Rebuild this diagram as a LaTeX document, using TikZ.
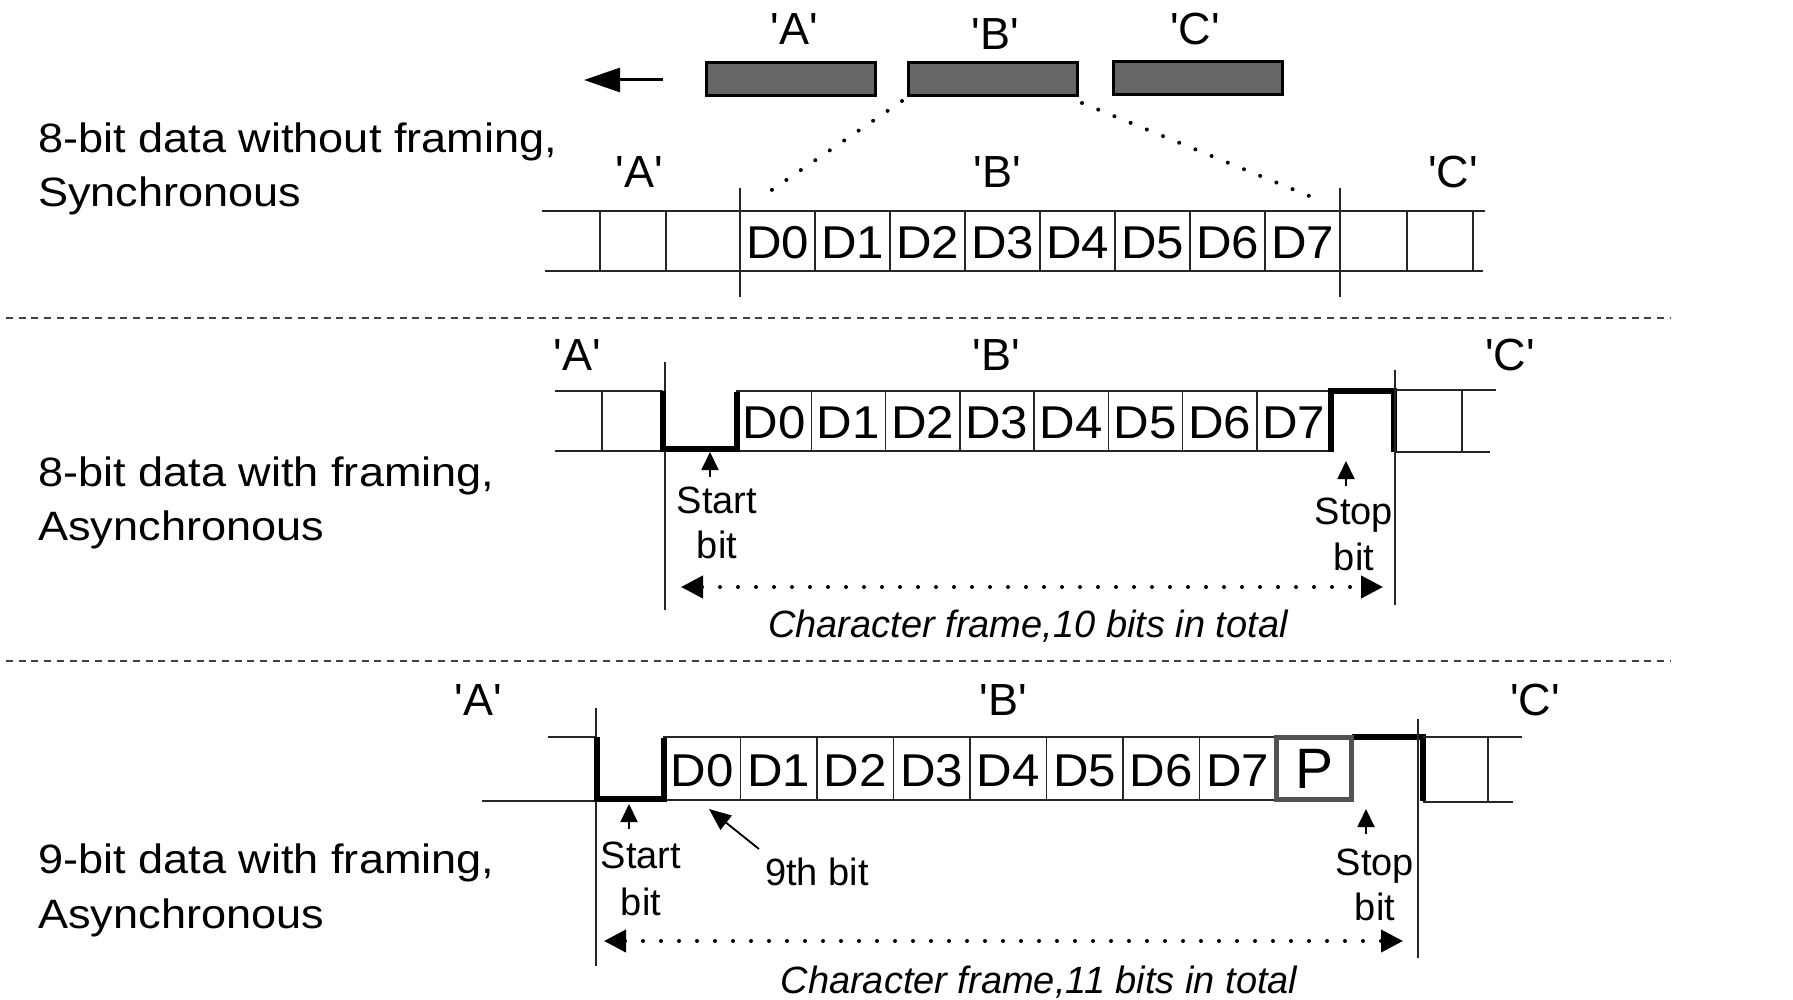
\documentclass[tikz,border=0pt]{standalone}
\usepackage{fontspec}
\setmainfont{Liberation Sans}[Ligatures=TeXOff]
\newfontfamily\widefont{Liberation Sans}[FakeStretch=1.1,Ligatures=TeXOff]
\newfontfamily\dfont{Liberation Sans}[FakeStretch=1.07,Ligatures=TeXOff]
\usetikzlibrary{arrows.meta}
\tikzset{
  thinln/.style={line width=1.5pt, draw=black!85},
  wave/.style={line width=5.5pt, draw=black, line join=miter},
  sepline/.style={line width=2pt, draw=black!75, dash pattern=on 7pt off 5.7pt},
  zoomdots/.style={line width=4pt, draw=black, line cap=round, dash pattern=on 0pt off 17.5pt},
  dimline/.style={line width=4pt, draw=black, line cap=round, dash pattern=on 0pt off 18pt,
     {Triangle[length=22pt,width=22pt]}-{Triangle[length=22pt,width=22pt]}},
  uparr/.style={line width=1.8pt, draw=black, -{Triangle[length=18pt,width=17pt]}},
  blk/.style={draw=black, fill=black!60, line width=3pt, minimum width=169pt, minimum height=33pt, inner sep=0pt},
  lbl/.style={font=\fontsize{45}{54}\selectfont, anchor=base, inner sep=0pt},
  side/.style={font=\widefont\fontsize{41}{54}\selectfont, anchor=base west, inner sep=0pt},
  dlbl/.style={font=\dfont\fontsize{46}{54}\selectfont, anchor=base, inner sep=0pt},
  small/.style={font=\fontsize{38}{45}\selectfont, anchor=base, inner sep=0pt},
  frame/.style={font=\itshape\fontsize{38}{45}\selectfont, anchor=base, inner sep=0pt},
  pbox/.style={draw=black!68, line width=5pt, minimum width=75pt, minimum height=62pt, inner sep=0pt,
     font=\fontsize{57}{60}\selectfont}
}
\begin{document}
\begin{tikzpicture}[x=1pt,y=-1pt]
\useasboundingbox (0,0) rectangle (1793,1000);

% ---------- top: character stream ----------
\node[blk] (boxA) at (791,79) {};
\node[blk] (boxB) at (993,79) {};
\node[blk] (boxC) at (1198,78) {};
\node[lbl] (tA) at (794,45) {'A'};
\node[lbl] (tB) at (995,50) {'B'};
\node[lbl] (tC) at (1195,45) {'C'};
\coordinate (arrS) at (663,80);
\coordinate (arrE) at (584,80);
\draw[line width=3pt, -{Triangle[length=36pt,width=24pt]}] (arrS) -- (arrE);

% ---------- row 1: synchronous ----------
\node[side] (l1a) at (38,153) {8-bit data without framing,};
\node[side] (l1b) at (38,207) {Synchronous};
\node[lbl] (r1A) at (639,188) {'A'};
\node[lbl] (r1B) at (997,188) {'B'};
\node[lbl] (r1C) at (1453,188) {'C'};
\draw[thinln] (542,211) -- (1485,211);
\draw[thinln] (545,271) -- (1483,271);
\foreach \x in {600,666,815,890,965,1040,1115,1190,1265,1407,1473}
  \draw[thinln] (\x,211) -- (\x,271);
\draw[thinln] (740,188) -- (740,297);
\draw[thinln] (1340,188) -- (1340,297);
\foreach \i in {0,...,7}
  \node[dlbl] (s1d\i) at ({777.5+75*\i},258.5) {D\i};
\coordinate (zl) at (760,198);
\coordinate (zr) at (1324,202);
\draw[zoomdots] ([shift={(-5,4)}]boxB.south west) -- (zl);
\draw[zoomdots] ([shift={(3,6)}]boxB.south east) -- (zr);

% separators
\coordinate (sepA1) at (6,318);  \coordinate (sepA2) at (1670,318);
\coordinate (sepB1) at (6,661);  \coordinate (sepB2) at (1670,661);
\draw[sepline] (sepA1) -- (sepA2);
\draw[sepline] (sepB1) -- (sepB2);

% ---------- row 2: 8-bit async ----------
\node[side] (l2a) at (38,486) {8-bit data with framing,};
\node[side] (l2b) at (38,540) {Asynchronous};
\node[lbl] (r2A) at (577,370) {'A'};
\node[lbl] (r2B) at (996,370) {'B'};
\node[lbl] (r2C) at (1510,370) {'C'};
\draw[thinln] (555,391) -- (663,391);
\draw[thinln] (555,451) -- (663,451);
\draw[thinln] (602,391) -- (602,451);
\draw[thinln] (665,362) -- (665,610);
\draw[thinln] (737,391) rectangle (1331,451);
\foreach \i in {1,...,7}
  \draw[thinln] ({737+74.25*\i},391) -- ({737+74.25*\i},451);
\foreach \i in {0,...,7}
  \node[dlbl] (s2d\i) at ({774.1+74.25*\i},438.5) {D\i};
\draw[wave] (663,391) -- (663,449) -- (737,449) -- (737,392);
\draw[wave] (1331,452) -- (1331,391) -- (1394,391) -- (1394,452);
\draw[thinln] (1395,370) -- (1395,605);
\draw[thinln] (1394,390) -- (1496,390);
\draw[thinln] (1394,452) -- (1490,452);
\draw[thinln] (1462,390) -- (1462,452);
\node[small] (st2a) at (717,513) {Start};
\node[small] (st2b) at (717,558) {bit};
\node[small] (sp2a) at (1354,524) {Stop};
\node[small] (sp2b) at (1354,570) {bit};
\coordinate (a2s) at (710,477); \coordinate (a2t) at (710,452);
\draw[uparr] (a2s) -- (a2t);
\coordinate (a2u) at (1346,486); \coordinate (a2v) at (1346,461);
\draw[uparr] (a2u) -- (a2v);
\coordinate (d2l) at (681,587); \coordinate (d2r) at (1383,587);
\draw[dimline] (d2l) -- (d2r);
\node[frame] (cf2) at (1028,637) {Character frame,10 bits in total};

% ---------- row 3: 9-bit async ----------
\node[side] (l3a) at (38,873) {9-bit data with framing,};
\node[side] (l3b) at (38,928) {Asynchronous};
\node[lbl] (r3A) at (478,715) {'A'};
\node[lbl] (r3B) at (1003,715) {'B'};
\node[lbl] (r3C) at (1535,715) {'C'};
\draw[thinln] (548,737) -- (596,737);
\draw[thinln] (482,801) -- (596,801);
\draw[thinln] (596,708) -- (596,966);
\draw[thinln] (664,737) rectangle (1276,800);
\foreach \i in {1,...,7}
  \draw[thinln] ({664+76.5*\i},737) -- ({664+76.5*\i},800);
\foreach \i in {0,...,7}
  \node[dlbl] (s3d\i) at ({702.25+76.5*\i},786.5) {D\i};
\draw[wave] (597,737) -- (597,799) -- (664,799) -- (664,738);
\draw[wave] (1352,737) -- (1423,737) -- (1423,801);
\node[pbox] (pb) at (1314,768.5) {P};
\draw[thinln] (1418,719) -- (1418,958);
\draw[thinln] (1423,737) -- (1522,737);
\draw[thinln] (1423,802) -- (1513,802);
\draw[thinln] (1488,737) -- (1488,802);
\node[small] (st3a) at (641,868) {Start};
\node[small] (st3b) at (641,915) {bit};
\node[small] (nb) at (817,885) {9th bit};
\node[small] (sp3a) at (1375,875) {Stop};
\node[small] (sp3b) at (1375,920) {bit};
\coordinate (a3s) at (629,829); \coordinate (a3t) at (629,804);
\draw[uparr] (a3s) -- (a3t);
\coordinate (a3u) at (1366,834); \coordinate (a3v) at (1366,809);
\draw[uparr] (a3u) -- (a3v);
\coordinate (nbt) at (759,849); \coordinate (nbh) at (709,809);
\draw[line width=1.8pt, -{Triangle[length=22pt,width=18pt]}] (nbt) -- (nbh);
\coordinate (d3l) at (604,941); \coordinate (d3r) at (1403,941);
\draw[dimline] (d3l) -- (d3r);
\node[frame] (cf3) at (1039,993) {Character frame,11 bits in total};
\end{tikzpicture}
\end{document}
